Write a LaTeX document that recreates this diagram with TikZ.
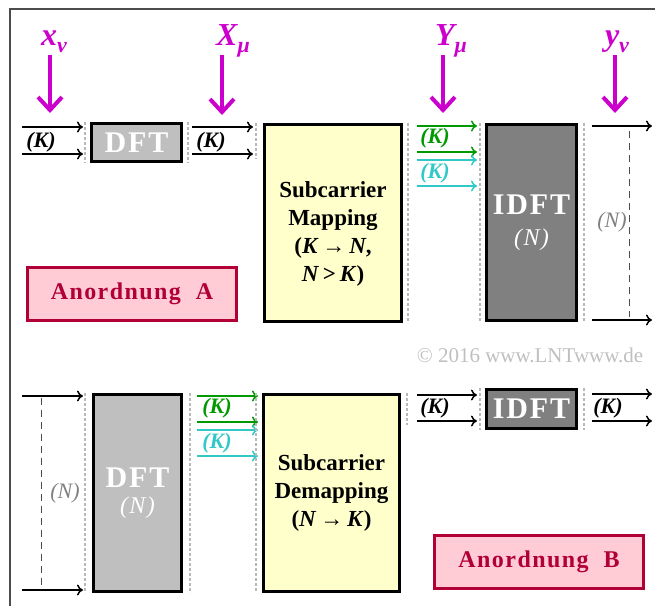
\documentclass[tikz,border=0pt]{standalone}
\usepackage{fontspec}
\setmainfont{Liberation Serif}
\usepackage{xcolor}
\usepackage{tikz}
\usetikzlibrary{arrows.meta}
\definecolor{sigmagenta}{HTML}{CC00CC}
\definecolor{subgreen}{HTML}{009A00}
\definecolor{subcyan}{HTML}{33C8C8}
\definecolor{mapyellow}{HTML}{FFFFCC}
\definecolor{dftgray}{HTML}{BFBFBF}
\definecolor{idftgray}{HTML}{808080}
\definecolor{tagpink}{HTML}{FFCCD6}
\definecolor{tagred}{HTML}{B00035}
\newcommand{\sigsub}[1]{\raisebox{-7pt}{\fontsize{22}{22}\selectfont #1}}
\newcommand{\nfont}{\fontsize{24}{24}\selectfont\mdseries\itshape}

\begin{document}
\begin{tikzpicture}[x=1pt, y=-1pt,
          blk/.style={rectangle, draw=black, line width=3pt, inner sep=0pt, align=center},
          dftbox/.style={blk, fill=dftgray, text=white,
                         font=\fontsize{30}{30}\selectfont\bfseries\addfontfeatures{LetterSpace=6}},
          idftbox/.style={dftbox, fill=idftgray},
          mapbox/.style={blk, fill=mapyellow, font=\fontsize{23}{28}\selectfont\bfseries},
          tagbox/.style={rectangle, draw=tagred, fill=tagpink, line width=3pt, text=tagred,
                         font=\fontsize{24}{24}\selectfont\bfseries\addfontfeatures{LetterSpace=6}},
          arr/.style={-{To[length=6pt, width=11pt]}, line width=1.5pt},
          garr/.style={arr, subgreen},
          carr/.style={arr, subcyan},
          sigarr/.style={-{Straight Barb[length=13pt, width=24pt]}, line width=4pt, sigmagenta},
          siglab/.style={inner sep=0pt, anchor=base, text=sigmagenta,
                         font=\fontsize{32}{32}\selectfont\bfseries\itshape},
          sep/.style={line width=2.5pt, draw=black!28, dash pattern=on 2.5pt off 2.5pt},
          nline/.style={line width=1pt, draw=black!70, dash pattern=on 7pt off 5pt},
          klab/.style={inner sep=0pt, font=\fontsize{22}{22}\selectfont\bfseries\itshape},
          nlab/.style={inner sep=0pt, text=black!50, font=\fontsize{22}{22}\selectfont\itshape}
        ]
        \useasboundingbox (0,0) rectangle (655,606);
        \draw[line width=2pt, black!70] (10,606) -- (10,9) -- (655,9);

        % Anordnung A
        \node[dftbox, minimum width=90pt, minimum height=38pt] (dftA) at (136.5,142.5) {DFT};
        \node[mapbox, minimum width=137pt, minimum height=197pt] (mapA) at (333,223)
             {\rule{0pt}{37pt}Subcarrier\\Mapping\\(\textit{K}\,→\,\textit{N},\\\textit{N}\,>\,\textit{K})};
        \node[idftbox, minimum width=90pt, minimum height=196pt] (idftA) at (531.5,222.5)
             {IDFT\\[1pt]{\nfont (N)}};
        \node[tagbox, minimum width=209pt, minimum height=53pt] (tagA) at (132,294) {Anordnung\ \ A};

        \node[siglab] (xnu) at (54,45) {x\sigsub{ν}};
        \node[siglab] (Xmu) at (233,45) {X\sigsub{μ}};
        \node[siglab] (Ymu) at (451,45) {Y\sigsub{μ}};
        \node[siglab] (ynu) at (617,45) {y\sigsub{ν}};
        \coordinate (xnuP) at (50,113);
        \coordinate (XmuP) at (222,115);
        \coordinate (YmuP) at (443,113);
        \coordinate (ynuP) at (615,113);
        \draw[sigarr] (xnuP |- 0,55) -- (xnuP);
        \draw[sigarr] (XmuP |- 0,55) -- (XmuP);
        \draw[sigarr] (YmuP |- 0,55) -- (YmuP);
        \draw[sigarr] (ynuP |- 0,55) -- (ynuP);

        \coordinate (inA1) at (22,127);
        \coordinate (inA2) at (22,154);
        \draw[arr, shorten >=7pt] (inA1) -- (inA1 -| dftA.west);
        \draw[arr, shorten >=7pt] (inA2) -- (inA2 -| dftA.west);
        \node[klab] (kA1) at (41,142) {(K)};
        \draw[arr, shorten <=9pt, shorten >=10pt] (dftA.east |- inA1) -- (mapA.west |- inA1);
        \draw[arr, shorten <=9pt, shorten >=10pt] (dftA.east |- inA2) -- (mapA.west |- inA2);
        \node[klab] (kA2) at (211,142) {(K)};

        \draw[garr, shorten <=14pt, shorten >=8pt] (mapA.east |- 0,126) -- (idftA.west |- 0,126);
        \draw[garr, shorten <=14pt, shorten >=8pt] (mapA.east |- 0,152) -- (idftA.west |- 0,152);
        \draw[carr, shorten <=14pt, shorten >=8pt] (mapA.east |- 0,160) -- (idftA.west |- 0,160);
        \draw[carr, shorten <=14pt, shorten >=8pt] (mapA.east |- 0,186) -- (idftA.west |- 0,186);
        \node[klab, text=subgreen] (kA3) at (435,138) {(K)};
        \node[klab, text=subcyan] (kA4) at (435,173) {(K)};

        \coordinate (outA1) at (652,126);
        \coordinate (outA2) at (652,320);
        \draw[arr, shorten <=14pt] (idftA.east |- outA1) -- (outA1);
        \draw[arr, shorten <=14pt] (idftA.east |- outA2) -- (outA2);
        \draw[nline] (629,131) -- (629,317);
        \node[nlab] (nA) at (612,222) {(N)};

        \draw[sep] ([xshift=-5pt]dftA.north west) -- ([xshift=-5pt]dftA.south west);
        \draw[sep] ([xshift=5pt]dftA.north east) -- ([xshift=5pt]dftA.south east);
        \draw[sep] ([xshift=-7pt]mapA.north west) -- ([xshift=-7pt,yshift=-36pt]mapA.north west);
        \draw[sep] ([xshift=5pt]mapA.north east) -- ([xshift=5pt]mapA.south east);
        \draw[sep] ([xshift=-5pt]idftA.north west) -- ([xshift=-5pt]idftA.south west);
        \draw[sep] ([xshift=6pt]idftA.north east) -- ([xshift=6pt]idftA.south east);

        \node[font=\fontsize{21}{21}\selectfont, text=black!25] (copy) at (530,355) {© 2016 www.LNTwww.de};

        % Anordnung B
        \node[dftbox, minimum width=88pt, minimum height=197pt] (dftB) at (137.5,493)
             {DFT\\[-4pt]{\nfont (N)}};
        \node[mapbox, minimum width=136pt, minimum height=197pt] (demapB) at (331.5,493)
             {Subcarrier\\Demapping\\(\textit{N}\,→\,\textit{K})};
        \node[idftbox, minimum width=90pt, minimum height=39pt] (idftB) at (531.5,409) {IDFT};
        \node[tagbox, minimum width=209pt, minimum height=53pt] (tagB) at (539,562) {Anordnung\ \ B};

        \coordinate (inB1) at (22,396);
        \coordinate (inB2) at (22,590);
        \draw[arr, shorten >=9pt] (inB1) -- (inB1 -| dftB.west);
        \draw[arr, shorten >=9pt] (inB2) -- (inB2 -| dftB.west);
        \draw[nline] (41,398) -- (41,588);
        \node[nlab] (nB) at (65,493) {(N)};

        \draw[garr, shorten <=14pt, shorten >=4pt] (dftB.east |- 0,396) -- (demapB.west |- 0,396);
        \draw[garr, shorten <=14pt, shorten >=4pt] (dftB.east |- 0,422) -- (demapB.west |- 0,422);
        \draw[carr, shorten <=14pt, shorten >=4pt] (dftB.east |- 0,430) -- (demapB.west |- 0,430);
        \draw[carr, shorten <=14pt, shorten >=4pt] (dftB.east |- 0,456) -- (demapB.west |- 0,456);
        \node[klab, text=subgreen] (kB1) at (217,408) {(K)};
        \node[klab, text=subcyan] (kB2) at (217,443) {(K)};

        \draw[arr, shorten <=16pt, shorten >=8pt] (demapB.east |- 0,395) -- (idftB.west |- 0,395);
        \draw[arr, shorten <=16pt, shorten >=8pt] (demapB.east |- 0,421) -- (idftB.west |- 0,421);
        \node[klab] (kB3) at (435,408) {(K)};

        \coordinate (outB1) at (652,394);
        \coordinate (outB2) at (652,421);
        \draw[arr, shorten <=14pt] (idftB.east |- outB1) -- (outB1);
        \draw[arr, shorten <=14pt] (idftB.east |- outB2) -- (outB2);
        \node[klab] (kB4) at (608,408) {(K)};

        \draw[sep] ([xshift=-7pt]dftB.north west) -- ([xshift=-7pt]dftB.south west);
        \draw[sep] ([xshift=7pt]dftB.north east) -- ([xshift=7pt]dftB.south east);
        \draw[sep] ([xshift=-6pt]demapB.north west) -- ([xshift=-6pt]demapB.south west);
        \draw[sep] ([xshift=6pt]demapB.north east) -- ([xshift=6pt,yshift=-32pt]demapB.north east);
        \draw[sep] ([xshift=-5pt]idftB.north west) -- ([xshift=-5pt]idftB.south west);
        \draw[sep] ([xshift=6pt]idftB.north east) -- ([xshift=6pt]idftB.south east);
      \end{tikzpicture}
\end{document}
